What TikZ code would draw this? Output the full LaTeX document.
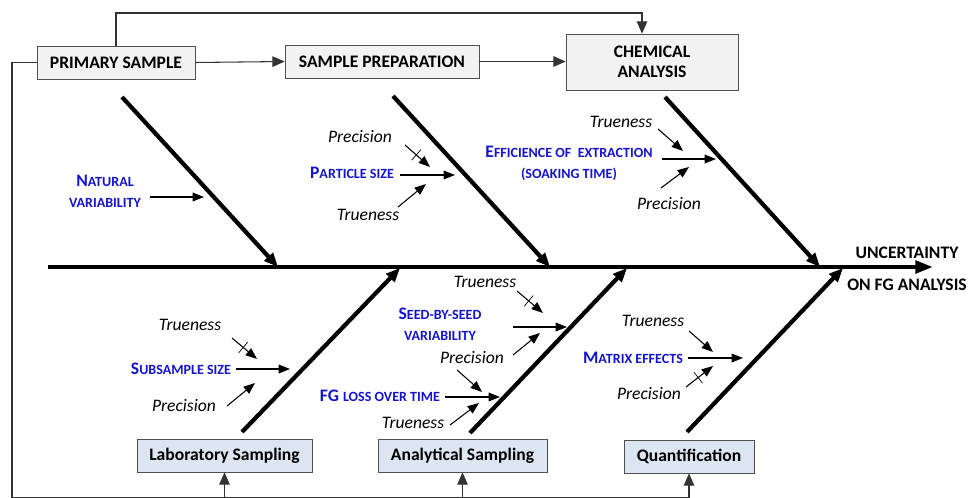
\documentclass[tikz,border=0pt]{standalone}
\usepackage{fontspec}
\setmainfont{Carlito}
\usetikzlibrary{arrows.meta,decorations.markings}
\definecolor{causeblue}{RGB}{20,20,205}
\definecolor{stagegray}{RGB}{242,242,242}
\definecolor{stepblue}{RGB}{220,230,242}
\definecolor{framegray}{RGB}{80,80,80}
\newcommand{\lowcaps}[1]{{\fontsize{8}{9}\selectfont #1}}
\tikzset{
  stagebox/.style={draw=framegray,fill=stagegray,font=\bfseries\fontsize{10}{11.5}\selectfont,align=center,inner sep=0pt},
  stepbox/.style={draw=framegray,fill=stepblue,font=\bfseries\fontsize{10}{12}\selectfont,inner sep=0pt},
  flow/.style={draw=black!80,line width=0.6pt},
  flowtip/.style={flow,-{Triangle[length=7pt,width=6pt]}},
  spine/.style={line width=2.4pt,-{Triangle[length=10pt,width=7pt]}},
  bone/.style={line width=2.4pt,-{Triangle[length=8pt,width=6.5pt]}},
  cue/.style={line width=0.6pt,-{Triangle[length=6.5pt,width=5pt]}},
  crossed/.style={postaction={decorate,decoration={markings,
    mark=at position 0.45 with {\draw[-,line width=0.4pt] (0,-4pt) -- (0,4pt);}}}},
  cause/.style={text=causeblue,font=\bfseries\fontsize{10}{12}\selectfont,align=center,inner sep=0pt},
  factor/.style={font=\itshape\fontsize{10}{11}\selectfont,inner sep=0pt},
  effect/.style={font=\bfseries\fontsize{10}{11}\selectfont,inner sep=0pt}
}
\begin{document}
\begin{tikzpicture}[x=0.02cm,y=-0.02cm]
\useasboundingbox (0,0) rectangle (979,497);
% stages
\node[stagebox,minimum width=3.16cm,minimum height=0.66cm] (primary) at (116,62.5) {PRIMARY SAMPLE};
\node[stagebox,minimum width=3.88cm,minimum height=0.66cm] (prep) at (382,61.5) {SAMPLE PREPARATION};
\node[stagebox,minimum width=3.44cm,minimum height=1.12cm] (chem) at (652,62) {CHEMICAL\\ANALYSIS};
\node[stepbox,minimum width=3.5cm,minimum height=0.66cm] (lab) at (224.5,455.5) {Laboratory Sampling};
\node[stepbox,minimum width=3.38cm,minimum height=0.66cm] (ansamp) at (462.5,455.5) {Analytical Sampling};
\node[stepbox,minimum width=2.6cm,minimum height=0.66cm] (quant) at (689,456.5) {Quantification};

% flow between stages
\coordinate (loop) at (642,13);
\coordinate (feed) at (12,497.6);
\draw[flowtip] (primary.east) -- (prep.west);
\draw[flowtip] (prep.east) -- (chem.west |- prep.east);
\draw[flowtip] (primary.north) |- (loop) -- (chem.north -| loop);
\draw[flow] (primary.west) -| (feed) -- (quant.south |- feed);
\draw[flowtip] (lab.south |- feed) -- (lab.south);
\draw[flowtip] (ansamp.south |- feed) -- (ansamp.south);
\draw[flowtip] (quant.south |- feed) -- (quant.south);

% spine and effect
\coordinate (tail) at (48,267);
\coordinate (head) at (933,267);
\draw[spine] (tail) -- (head);
\node[effect] (eff1) at (907,253) {UNCERTAINTY};
\node[effect] (eff2) at (907,285) {ON FG ANALYSIS};

% bones
\coordinate (up1) at (122,97);  \coordinate (hit1) at (278,267);
\coordinate (up2) at (393,96);  \coordinate (hit2) at (550,267);
\coordinate (up3) at (665,97);  \coordinate (hit3) at (820,267);
\coordinate (lo1) at (242,432); \coordinate (hit4) at (400,268);
\coordinate (lo2) at (470,433); \coordinate (hit5) at (627,268);
\coordinate (lo3) at (687,432); \coordinate (hit6) at (843,268);
\draw[bone] (up1) -- (hit1);
\draw[bone] (up2) -- (hit2);
\draw[bone] (up3) -- (hit3);
\draw[bone] (lo1) -- (hit4);
\draw[bone] (lo2) -- (hit5);
\draw[bone] (lo3) -- (hit6);

% causes, upper side
\node[cause] (nat) at (105,191.5) {N\lowcaps{ATURAL}\\\lowcaps{VARIABILITY}};
\coordinate (nat-a) at (150,197); \coordinate (nat-b) at (204,197);
\draw[cue] (nat-a) -- (nat-b);

\node[factor] (prec1) at (360,137) {Precision};
\node[cause] (part) at (352,173) {P\lowcaps{ARTICLE SIZE}};
\node[factor] (true1) at (368,215) {Trueness};
\coordinate (part-a) at (400,175); \coordinate (part-b) at (455,175);
\coordinate (prec1-a) at (405,145); \coordinate (prec1-b) at (430,167);
\coordinate (true1-a) at (398,207); \coordinate (true1-b) at (426,184);
\draw[cue] (part-a) -- (part-b);
\draw[cue,crossed] (prec1-a) -- (prec1-b);
\draw[cue] (true1-a) -- (true1-b);

\node[factor] (true2) at (621,122) {Trueness};
\node[cause] (effic) at (569,163) {E\lowcaps{FFICIENCE OF\ \ EXTRACTION}\\\lowcaps{(SOAKING TIME)}};
\node[factor] (prec2) at (669,204) {Precision};
\coordinate (effic-a) at (662,159); \coordinate (effic-b) at (716,159);
\coordinate (true2-a) at (658,129); \coordinate (true2-b) at (683,151);
\coordinate (prec2-a) at (661,188); \coordinate (prec2-b) at (689,167);
\draw[cue] (effic-a) -- (effic-b);
\draw[cue] (true2-a) -- (true2-b);
\draw[cue] (prec2-a) -- (prec2-b);

% causes, lower side
\node[factor] (true3) at (190,325) {Trueness};
\node[cause] (subs) at (181,369) {S\lowcaps{UBSAMPLE SIZE}};
\node[factor] (prec3) at (184,406) {Precision};
\coordinate (subs-a) at (236,369); \coordinate (subs-b) at (290,369);
\coordinate (true3-a) at (232,338); \coordinate (true3-b) at (257,359);
\coordinate (prec3-a) at (227,406); \coordinate (prec3-b) at (255,383);
\draw[cue] (subs-a) -- (subs-b);
\draw[cue,crossed] (true3-a) -- (true3-b);
\draw[cue] (prec3-a) -- (prec3-b);

\node[factor] (true4) at (485,282) {Trueness};
\node[cause] (seed) at (440,324) {S\lowcaps{EED-BY-SEED}\\\lowcaps{VARIABILITY}};
\node[factor] (prec4) at (472,358) {Precision};
\node[cause] (fgloss) at (380,396) {FG \lowcaps{LOSS OVER TIME}};
\node[factor] (true5) at (413,423) {Trueness};
\coordinate (seed-a) at (513,327); \coordinate (seed-b) at (567,327);
\coordinate (true4-a) at (517,291); \coordinate (true4-b) at (543,313);
\coordinate (prec4-a) at (513,355); \coordinate (prec4-b) at (540,333);
\coordinate (prec4-c) at (457,370); \coordinate (prec4-d) at (482,392);
\coordinate (fgloss-a) at (445,397); \coordinate (fgloss-b) at (500,397);
\coordinate (true5-a) at (450,425); \coordinate (true5-b) at (479,403);
\draw[cue] (seed-a) -- (seed-b);
\draw[cue,crossed] (true4-a) -- (true4-b);
\draw[cue] (prec4-a) -- (prec4-b);
\draw[cue] (prec4-c) -- (prec4-d);
\draw[cue] (fgloss-a) -- (fgloss-b);
\draw[cue] (true5-a) -- (true5-b);

\node[factor] (true6) at (653,321) {Trueness};
\node[cause] (matrix) at (633,358) {M\lowcaps{ATRIX EFFECTS}};
\node[factor] (prec6) at (649,394) {Precision};
\coordinate (matrix-a) at (688,358); \coordinate (matrix-b) at (743,358);
\coordinate (true6-a) at (689,331); \coordinate (true6-b) at (713,352);
\coordinate (prec6-a) at (686,387); \coordinate (prec6-b) at (713,366);
\draw[cue] (matrix-a) -- (matrix-b);
\draw[cue] (true6-a) -- (true6-b);
\draw[cue,crossed] (prec6-a) -- (prec6-b);
\end{tikzpicture}
\end{document}
